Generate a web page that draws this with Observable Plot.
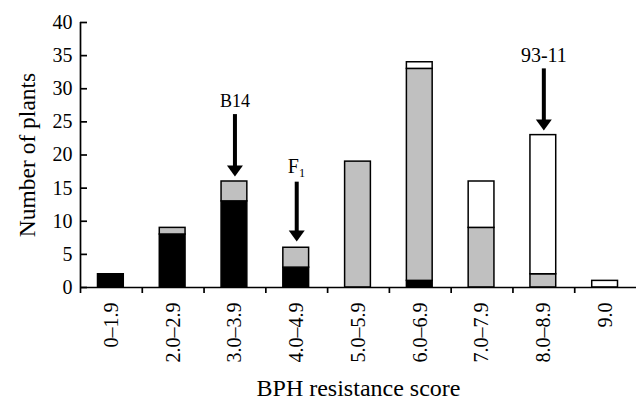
<!DOCTYPE html>
<html><head><meta charset="utf-8">
<script src="https://cdn.jsdelivr.net/npm/d3@7"></script>
<script src="https://cdn.jsdelivr.net/npm/@observablehq/plot@0.6"></script>
<style>
html,body{margin:0;padding:0;background:#fff}
svg{display:block}
#chart svg, #chart svg text{font-family:"Liberation Serif","Times New Roman",serif !important}
</style>
</head><body><div id="chart"></div>
<script>
// ---- data ----
const categories = ["0–1.9","2.0–2.9","3.0–3.9","4.0–4.9","5.0–5.9","6.0–6.9","7.0–7.9","8.0–8.9","9.0"];
const blackCounts = [2, 8, 13, 3, 0, 1, 0, 0, 0];
const grayCounts  = [0, 1, 3, 3, 19, 32, 9, 2, 0];
const whiteCounts = [0, 0, 0, 0, 0, 1, 7, 21, 1];
const seriesNames = ["black", "gray", "white"];
const seriesColors = ["#000000", "#c0c0c0", "#ffffff"];
const yTicks = [0, 5, 10, 15, 20, 25, 30, 35, 40];
const yTitle = "Number of plants";
const xTitle = "BPH resistance score";
const annoLabels = ["B14", "F₁", "93-11"];
const annoCategory = ["3.0–3.9", "4.0–4.9", "8.0–8.9"];
const annoLabelY = [28.1, 18.3, 35.0];
const annoArrowStart = [26.1, 15.9, 33.0];
const annoArrowTip = [16.75, 6.95, 23.7];
const annoFontSize = [18, 20, 20];

// ---- build table ----
const seriesValues = [blackCounts, grayCounts, whiteCounts];
const rows = [];
categories.forEach((c, i) => {
  let base = 0;
  seriesNames.forEach((s, k) => {
    const v = seriesValues[k][i];
    if (v > 0) rows.push({cat: c, i, series: s, color: seriesColors[k], y1: base, y2: base + v});
    base += v;
  });
});
const annos = annoLabels.map((t, j) => ({
  label: t, i: categories.indexOf(annoCategory[j]),
  ly: annoLabelY[j], y1: annoArrowStart[j], y2: annoArrowTip[j], fs: annoFontSize[j]
}));

const arrowHead = {
  draw(context) {
    context.moveTo(0, 0);
    context.lineTo(-8, -11);
    context.lineTo(8, -11);
    context.closePath();
  }
};

const font = "Liberation Serif, Times New Roman, serif";
const chart = Plot.plot({
  width: 638,
  height: 402,
  marginLeft: 80,
  marginRight: 2,
  marginTop: 22,
  marginBottom: 115,
  style: {fontFamily: font, fontSize: "20px", color: "#000", background: "#fff"},
  x: {domain: [0, categories.length], axis: null},
  y: {domain: [0, 40], axis: null},
  color: {type: "identity"},
  marks: [
    Plot.rectY(rows, {
      x1: d => d.i, x2: d => d.i + 1, y1: "y1", y2: "y2",
      fill: "color", stroke: "#000", strokeWidth: 1.5,
      insetLeft: 17.5, insetRight: 18.5
    }),
    Plot.ruleY([0], {stroke: "#000", strokeWidth: 1.7}),
    Plot.ruleX([0], {stroke: "#000", strokeWidth: 1.7}),
    Plot.axisY({ticks: yTicks, tickSize: -7, tickPadding: 15, strokeWidth: 1.7,
      fontSize: 20, fontFamily: font, label: null, tickFormat: d => String(d)}),
    Plot.axisX({ticks: d3.range(0, categories.length), tickSize: 6, strokeWidth: 1.7,
      tickFormat: () => "", label: null}),
    Plot.axisX({ticks: categories.map((c, i) => i + 0.5), tickSize: 0, tickPadding: 15,
      tickRotate: -90, fontSize: 20, fontFamily: font, label: null,
      tickFormat: v => categories[Math.round(v - 0.5)]}),
    Plot.text([yTitle], {frameAnchor: "left", rotate: -90, dx: -53, textAnchor: "middle", lineAnchor: "middle",
      fontSize: 23.5, fontFamily: font, text: d => d, fill: "#000"}),
    Plot.text([xTitle], {frameAnchor: "bottom", dy: 101, textAnchor: "middle", lineAnchor: "middle",
      fontSize: 24, fontFamily: font, text: d => d, fill: "#000"}),
    Plot.ruleX(annos, {x: d => d.i + 0.5, y1: "y1", y2: "y2", strokeWidth: 4, stroke: "#000", insetBottom: 9}),
    Plot.dot(annos, {x: d => d.i + 0.5, y: "y2", symbol: arrowHead, fill: "#000", stroke: null, r: 5}),
    Plot.text(annos, {x: d => d.i + 0.5, y: "ly", text: "label", fontSize: d => d.fs, fontFamily: font, fill: "#000"})
  ]
});
document.getElementById("chart").appendChild(chart);
</script>
</body></html>
